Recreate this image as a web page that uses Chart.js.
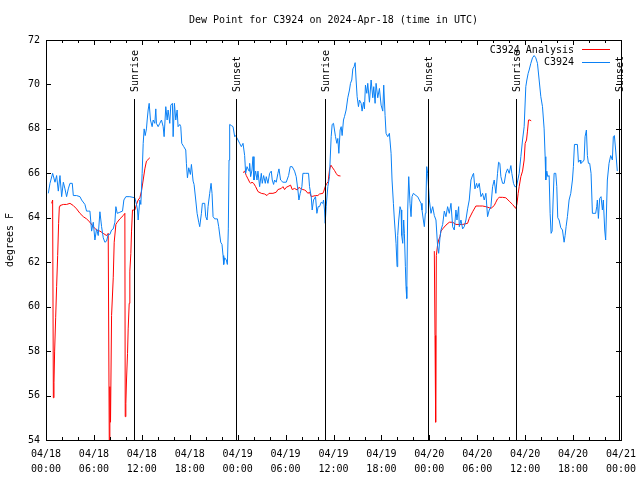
<!DOCTYPE html>
<html><head><meta charset="utf-8">
<script src="https://cdn.jsdelivr.net/npm/chart.js@4/dist/chart.umd.min.js"></script>
<style>html,body{margin:0;padding:0;background:#fff}#wrap{width:640px;height:480px}</style>
</head><body><div id="wrap"><canvas id="c" width="640" height="480"></canvas></div>
<script>
const titleText = 'Dew Point for C3924 on 2024-Apr-18 (time in UTC)';
const yAxisTitle = 'degrees F';
const seriesNames = ['C3924 Analysis', 'C3924'];
const xTickDates = ['04/18','04/18','04/18','04/18','04/19','04/19','04/19','04/19','04/20','04/20','04/20','04/20','04/21'];
const xTickTimes = ['00:00','06:00','12:00','18:00','00:00','06:00','12:00','18:00','00:00','06:00','12:00','18:00','00:00'];
const eventHours = [11.0, 23.75, 34.9, 47.8, 58.9, 71.8];
const eventLabels = ['Sunrise','Sunset','Sunrise','Sunset','Sunrise','Sunset'];

// hours since 04/18 00:00 UTC
const analysisHours = [
0.71,0.83,0.92,1.0,1.08,1.21,1.33,1.46,1.58,1.67,1.75,2.17,2.58,3.0,3.42,3.83,4.25,4.67,5.08,5.5,5.92,6.33,6.75,7.17,7.58,7.79,7.92,8.0,8.08,8.21,8.42,8.54,8.75,8.92,9.25,9.67,9.875,9.92,10.0,10.08,10.21,10.29,10.42,10.5,10.625,10.71,10.83,11.125,11.33,11.54,11.75,11.96,12.17,12.375,12.58,13.0,
13.5,
24.67,24.875,25.08,25.29,25.5,25.625,25.79,26.0,26.25,26.54,26.96,27.375,27.67,27.92,28.42,28.83,29.04,29.46,29.67,29.875,30.08,30.42,30.625,30.83,31.125,31.46,31.67,31.875,32.17,32.375,32.58,32.79,33.0,33.21,33.42,33.75,34.04,34.25,34.67,34.79,34.96,35.17,35.33,35.5,35.67,35.83,36.125,36.33,36.54,36.875,
37.5,
48.625,48.71,48.79,48.875,49.04,49.17,49.33,49.46,49.67,50.08,50.5,50.92,51.33,51.75,52.17,52.79,53.0,53.42,53.83,54.25,54.67,55.08,55.5,55.71,56.125,56.33,56.54,56.75,57.17,57.58,58.0,58.42,58.83,58.96,59.125,59.25,59.46,59.67,59.875,60.0,60.17,60.29,60.42,60.625,60.75
];
const analysisValues = [
64.65,64.8,55.9,56.6,58.0,59.5,60.9,62.3,63.75,64.5,64.55,64.6,64.6,64.65,64.55,64.4,64.2,64.05,63.95,63.8,63.6,63.45,63.4,63.3,63.2,63.3,54.0,56.4,54.8,59.6,61.3,62.9,63.7,63.8,63.95,64.1,64.2,55.05,55.65,56.7,57.9,59.0,60.15,61.6,62.4,63.4,64.35,64.35,64.6,64.8,64.9,65.2,65.7,66.2,66.55,66.7,
null,
66.03,66.1,65.9,65.75,65.6,65.55,65.6,65.55,65.4,65.18,65.1,65.07,65.0,65.1,65.1,65.15,65.27,65.32,65.4,65.27,65.37,65.43,65.47,65.27,65.32,65.25,65.37,65.32,65.27,65.25,65.2,65.1,65.15,64.95,64.97,65.0,65.0,65.07,65.1,65.2,65.4,65.55,65.62,66.15,66.37,66.28,66.13,66.0,65.9,65.88,
null,
62.5,58.7,54.8,62.3,62.8,63.0,63.15,63.4,63.5,63.67,63.8,63.8,63.7,63.7,63.7,63.75,63.97,64.27,64.53,64.53,64.53,64.5,64.45,64.42,64.55,64.7,64.85,64.92,64.92,64.9,64.75,64.6,64.42,64.6,65.1,65.4,65.85,66.1,66.6,67.35,67.5,67.9,68.4,68.4,68.35
];

const obsHours = [
0.29,0.5,0.83,1.125,1.33,1.54,1.75,1.96,2.17,2.375,2.58,2.79,3.0,3.29,3.42,3.83,4.25,4.46,4.875,5.08,5.29,5.5,5.71,5.92,6.125,6.33,6.54,6.75,6.96,7.17,7.375,7.58,7.79,8.0,8.21,8.42,8.625,8.75,8.92,9.25,9.58,9.75,10.0,10.5,11.125,11.33,11.46,11.54,11.75,11.875,12.04,12.17,12.29,12.42,12.58,12.67,12.79,12.92,13.08,13.29,13.42,13.625,13.75,13.83,14.04,14.25,14.46,14.67,14.79,15.0,15.17,15.29,15.5,15.625,15.83,15.92,16.08,16.25,16.42,16.54,16.75,16.875,17.0,17.25,17.5,17.58,17.71,17.875,18.08,18.21,18.42,18.54,18.75,18.92,19.125,19.25,19.46,19.58,19.875,20.0,20.17,20.29,20.5,20.67,20.79,20.92,21.125,21.46,21.625,21.875,22.04,22.17,22.25,22.375,22.58,22.71,22.83,22.92,23.0,23.21,23.42,23.625,
23.75,24.04,24.25,24.46,24.67,24.875,25.0,25.17,25.42,25.5,25.625,25.79,25.92,26.04,26.25,26.42,26.54,26.75,26.96,27.08,27.25,27.46,27.58,27.79,28.0,28.21,28.33,28.5,28.625,28.83,29.04,29.17,29.375,29.67,30.08,30.375,30.58,30.83,31.125,31.33,31.54,31.67,31.83,32.04,32.17,32.46,32.875,33.0,33.21,33.33,33.5,33.75,33.92,34.08,34.25,34.46,34.67,34.75,34.875,34.96,35.08,35.29,35.5,35.58,35.71,35.83,36.0,36.125,36.25,36.42,36.54,36.67,36.83,36.96,37.08,37.25,37.375,37.58,37.79,38.0,38.125,38.29,38.42,38.58,38.71,38.83,38.96,39.125,39.25,39.46,39.58,39.75,39.875,40.0,40.17,40.29,40.5,40.71,40.92,41.04,41.21,41.33,41.54,41.75,41.96,42.17,42.29,42.46,42.58,42.79,43.0,43.21,43.33,43.5,43.625,43.83,43.96,44.04,44.17,44.33,44.46,44.54,44.67,44.79,44.875,45.0,45.08,45.17,45.29,45.42,45.58,45.71,45.83,46.0,46.33,46.54,46.75,46.96,47.08,47.25,47.375,47.5,47.58,47.67,47.79,48.0,48.21,48.42,48.625,48.83,
49.04,49.17,49.33,49.46,49.67,49.875,50.08,50.29,50.5,50.71,50.92,51.125,51.33,51.46,51.67,51.75,51.96,52.17,52.375,52.58,52.79,53.0,53.21,53.42,53.54,53.71,53.92,54.04,54.25,54.46,54.67,54.875,55.08,55.29,55.5,55.71,55.92,56.125,56.33,56.54,56.67,56.83,56.96,57.17,57.375,57.58,57.79,58.0,58.21,58.33,58.54,58.71,58.92,59.08,59.25,59.46,59.67,59.875,60.08,60.21,60.375,60.5,60.71,60.92,61.125,61.33,61.54,61.75,61.96,62.17,62.375,62.5,62.58,62.71,62.83,63.0,63.125,63.25,63.375,63.5,63.625,63.83,63.96,64.08,64.25,64.46,64.67,64.875,65.0,65.125,65.29,65.5,65.71,65.92,66.04,66.17,66.54,66.67,66.875,66.96,67.17,67.375,67.5,67.67,67.79,67.92,68.08,68.25,68.42,68.625,68.83,68.96,69.04,69.17,69.33,69.5,69.67,69.79,69.96,70.08,70.29,70.5,70.71,70.92,71.04,71.17,71.33,71.54
];
const obsValues = [
65.1,65.55,66.0,65.6,65.9,65.2,65.9,64.95,65.6,65.3,64.95,65.3,65.55,65.55,65.0,65.0,64.95,64.8,64.6,64.3,64.3,64.3,63.4,63.8,63.0,63.5,63.2,64.27,63.6,63.1,62.9,62.95,63.25,63.25,63.45,63.5,63.8,64.5,64.2,64.25,64.3,64.8,64.95,64.95,64.9,64.6,64.35,63.9,64.8,64.6,66.0,67.35,68.0,67.7,68.0,68.4,68.85,69.15,68.4,68.1,68.4,68.25,68.9,68.25,68.1,68.25,68.4,68.1,67.65,69.0,68.4,68.85,68.25,69.07,69.15,67.65,69.15,68.4,68.85,68.1,68.2,68.1,67.35,67.2,67.05,66.45,65.8,66.25,65.95,66.4,65.65,65.5,64.8,64.2,63.8,63.6,64.2,64.65,64.65,64.05,63.9,64.5,65.1,65.55,65.1,64.05,63.95,63.95,63.6,62.9,62.8,62.3,61.9,62.2,62.1,61.9,63.5,66.6,68.2,68.15,68.1,67.65,
67.7,67.5,67.35,67.2,67.35,66.8,66.0,66.3,66.1,66.45,65.85,66.15,66.75,65.7,66.1,65.7,66.1,65.4,66.0,65.55,65.9,65.55,65.85,65.55,66.0,66.1,65.7,65.5,65.7,65.6,66.0,66.2,65.7,65.6,65.6,65.9,66.3,66.3,66.1,65.85,65.25,64.8,65.1,65.4,66.0,66.0,66.0,65.4,64.95,64.35,64.8,64.95,64.2,64.5,64.5,64.7,64.65,64.8,64.35,63.75,64.5,65.4,65.85,66.6,67.65,68.2,68.25,67.95,67.65,67.35,67.57,66.9,67.95,68.1,67.7,68.4,68.55,68.85,69.4,69.75,70.05,70.2,70.7,70.8,70.98,70.2,69.45,69.0,69.3,69.15,68.8,69.2,68.9,69.97,69.6,70.05,69.2,70.2,69.4,69.9,69.15,70.05,69.4,69.82,69.07,68.8,69.97,68.6,67.8,67.65,67.8,66.9,65.7,64.65,63.9,62.85,61.8,63.2,63.9,64.5,64.35,63.2,62.85,63.9,63.3,61.8,60.9,60.37,64.35,65.85,64.65,64.05,64.95,65.1,65.0,64.95,64.8,64.65,64.35,63.9,63.6,64.2,64.8,66.3,66.0,64.8,64.2,64.5,64.1,63.9,
62.7,62.4,63.1,63.45,63.7,64.3,64.05,64.5,64.2,64.65,63.6,63.45,64.35,63.9,64.5,63.6,63.9,63.5,63.6,63.9,64.4,64.8,65.7,65.92,66.0,65.3,65.55,65.35,65.55,64.95,65.1,64.8,65.1,64.05,64.35,64.5,65.4,65.7,65.1,66.0,66.5,66.45,65.85,65.55,65.55,66.0,66.2,66.0,66.35,66.0,65.55,65.4,65.4,65.7,66.0,66.75,67.5,68.1,69.9,70.2,70.5,70.65,70.95,71.2,71.3,71.2,70.95,70.2,69.45,69.0,68.0,66.75,65.7,66.1,65.85,65.9,64.2,63.3,63.4,64.8,66.0,66.0,65.4,64.0,63.9,63.55,63.45,62.9,63.2,63.6,64.05,64.8,65.1,65.7,66.3,67.3,67.3,66.5,66.6,66.45,66.5,66.6,67.65,67.95,66.8,66.45,66.45,66.0,64.2,64.2,64.2,64.5,64.8,63.97,64.87,64.95,64.35,64.8,63.45,63.0,65.7,66.45,66.8,66.6,67.65,67.7,67.05,66.1
];

const FONT = 'DejaVu Sans Mono';
const redColor = '#ff0000';
const blueColor = '#0a80f5';

const toPts = (xs, ys) => xs.map((x, i) => ({x: x, y: ys[i]}));

const decor = {
  id: 'decor',
  afterDatasetsDraw(chart) {
    const ctx = chart.ctx, a = chart.chartArea;
    const xs = chart.scales.x, ys = chart.scales.y;
    ctx.save();
    ctx.strokeStyle = '#000';
    ctx.lineWidth = 1;
    // frame
    ctx.strokeRect(Math.round(a.left) + 0.5, Math.round(a.top) + 0.5, Math.round(a.right - a.left), Math.round(a.bottom - a.top));
    // x ticks (inward, both sides)
    ctx.beginPath();
    for (let h = 0; h <= 72; h += 2) {
      const px = Math.round(xs.getPixelForValue(h)) + 0.5;
      const len = (h % 6 === 0) ? 5 : 3;
      ctx.moveTo(px, a.bottom); ctx.lineTo(px, a.bottom - len);
      ctx.moveTo(px, a.top); ctx.lineTo(px, a.top + len);
    }
    for (let v = 54; v <= 72; v += 2) {
      const py = Math.round(ys.getPixelForValue(v)) + 0.5;
      ctx.moveTo(a.left, py); ctx.lineTo(a.left + 5, py);
      ctx.moveTo(a.right, py); ctx.lineTo(a.right - 5, py);
    }
    ctx.stroke();
    // sunrise / sunset lines
    ctx.font = '10px "' + FONT + '"';
    ctx.fillStyle = '#000';
    eventHours.forEach((h, i) => {
      const px = Math.round(xs.getPixelForValue(h)) + 0.5;
      ctx.beginPath();
      ctx.moveTo(px, 99); ctx.lineTo(px, a.bottom);
      ctx.stroke();
      ctx.save();
      ctx.translate(px + 1, 92);
      ctx.rotate(-Math.PI / 2);
      ctx.textAlign = 'left';
      ctx.textBaseline = 'middle';
      ctx.fillText(eventLabels[i], 0, 0);
      ctx.restore();
    });
    // title
    ctx.textAlign = 'center';
    ctx.textBaseline = 'middle';
    ctx.fillText(titleText, (a.left + a.right) / 2, 20);
    // legend
    const ds = chart.data.datasets;
    ds.forEach((d, i) => {
      const y = 50 + i * 12.5;
      ctx.textAlign = 'right';
      ctx.fillStyle = '#000';
      ctx.fillText(d.label, 574, y);
      ctx.strokeStyle = d.borderColor;
      ctx.beginPath();
      ctx.moveTo(582, Math.round(y) - 0.5);
      ctx.lineTo(610, Math.round(y) - 0.5);
      ctx.stroke();
    });
    ctx.restore();
  }
};

new Chart(document.getElementById('c'), {
  type: 'line',
  data: {
    datasets: [
      {label: seriesNames[0], data: toPts(analysisHours, analysisValues), borderColor: redColor, backgroundColor: redColor, borderWidth: 1, pointRadius: 0, tension: 0, spanGaps: false, order: 2},
      {label: seriesNames[1], data: toPts(obsHours, obsValues), borderColor: blueColor, backgroundColor: blueColor, borderWidth: 1, pointRadius: 0, tension: 0, spanGaps: false, order: 1}
    ]
  },
  options: {
    responsive: false,
    animation: false,
    devicePixelRatio: 1,
    layout: {padding: {left: 0, right: 19, top: 40, bottom: 0}},
    plugins: {legend: {display: false}, title: {display: false}, tooltip: {enabled: false}},
    scales: {
      x: {
        type: 'linear', min: 0, max: 72,
        grid: {display: false, drawTicks: false, tickLength: 0},
        border: {display: false},
        ticks: {
          stepSize: 6, autoSkip: false, maxRotation: 0, minRotation: 0, padding: 7,
          color: '#000', font: {family: FONT, size: 10, lineHeight: 1.5},
          callback: (v) => { const i = Math.round(v / 6); return [xTickDates[i], xTickTimes[i]]; }
        },
        afterFit: (s) => { s.height = 40; s.paddingLeft = 0; s.paddingRight = 0; }
      },
      y: {
        min: 54, max: 72,
        grid: {display: false, drawTicks: false, tickLength: 0},
        border: {display: false},
        ticks: {stepSize: 2, padding: 6, color: '#000', font: {family: FONT, size: 10}},
        title: {display: true, text: yAxisTitle, color: '#000', font: {family: FONT, size: 10}, padding: {top: 4, bottom: 0}},
        afterFit: (s) => { s.width = 46; s.paddingTop = 0; s.paddingBottom = 0; }
      }
    }
  },
  plugins: [decor]
});
</script></body></html>
